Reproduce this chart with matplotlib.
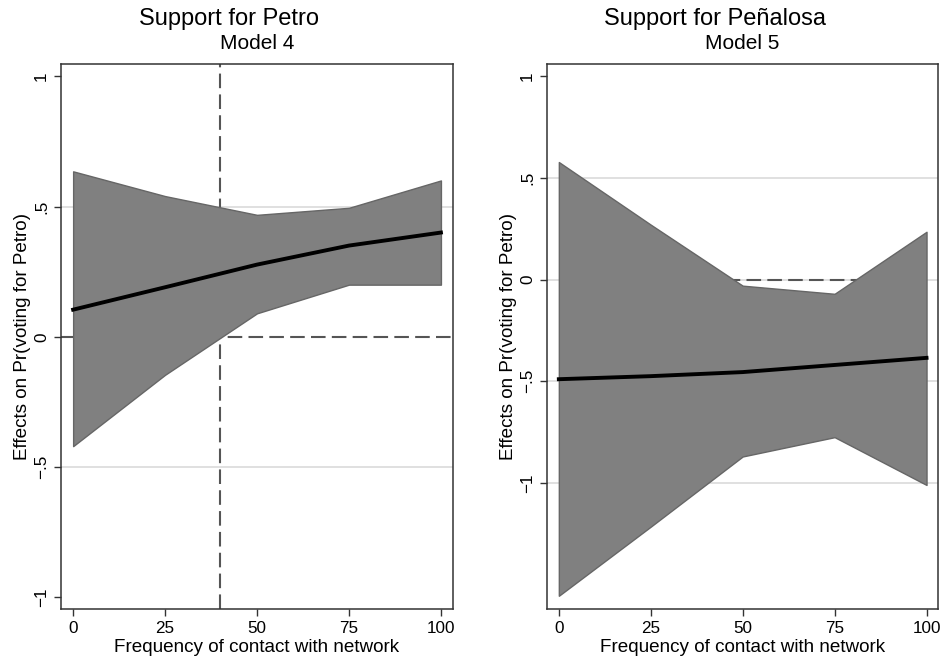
import matplotlib
matplotlib.use("Agg")
import matplotlib.pyplot as plt

plt.rcParams["font.family"] = ["Liberation Sans", "DejaVu Sans"]

contact = [0, 25, 50, 75, 100]

# Model 4: support for Petro
petro_effect = [0.104, 0.19, 0.277, 0.35, 0.40]
petro_upper = [0.635, 0.54, 0.468, 0.495, 0.60]
petro_lower = [-0.42, -0.146, 0.09, 0.20, 0.20]
petro_cut = 40

# Model 5: support for Peñalosa
penalosa_effect = [-0.49, -0.475, -0.455, -0.42, -0.385]
penalosa_upper = [0.578, 0.27, -0.03, -0.07, 0.235]
penalosa_lower = [-1.555, -1.215, -0.87, -0.775, -1.01]

yticks = [-1, -0.5, 0, 0.5, 1]
ytick_labels = ["\u22121", "\u2212.5", "0", ".5", "1"]
xticks = [0, 25, 50, 75, 100]

fig = plt.figure(figsize=(9.48, 6.62), dpi=100)
ax1 = fig.add_axes([61 / 948, 53 / 662, 391.7 / 948, 545 / 662])
ax2 = fig.add_axes([546.7 / 948, 53 / 662, 391.6 / 948, 545 / 662])

dash_kw = dict(color="#555555", lw=1.5, dashes=(7, 3), zorder=1)


def style_axes(ax, grid_vals, ylim, subtitle):
    ax.set_xlim(-3.3, 103.2)
    ax.set_ylim(*ylim)
    for g in grid_vals:
        ax.axhline(g, color="#dddddd", lw=1.3, zorder=0)
    ax.set_xticks(xticks)
    ax.set_xticklabels([str(v) for v in xticks])
    ax.set_yticks(yticks)
    ax.set_yticklabels(ytick_labels, rotation=90, va="center")
    ax.tick_params(axis="both", labelsize=12.3, length=5, width=1,
                   color="#333333", direction="out")
    for s in ax.spines.values():
        s.set_color("#333333")
        s.set_linewidth(1.1)
    ax.set_xlabel("Frequency of contact with network", fontsize=13.6, labelpad=2)
    ax.set_ylabel("Effects on Pr(voting for Petro)", fontsize=13.6, labelpad=2)
    ax.set_title(subtitle, fontsize=15, pad=11)


# left panel
style_axes(ax1, [0.5, -0.5], (-1.045, 1.047), "Model 4")
ax1.axvline(petro_cut, **dash_kw)
ax1.axhline(0, **dash_kw)
ax1.fill_between(contact, petro_lower, petro_upper, facecolor="#808080",
                 edgecolor="#666666", lw=1, zorder=2)
ax1.plot(contact, petro_effect, color="black", lw=2.8, zorder=3)

# right panel
style_axes(ax2, [0.5, 0, -0.5, -1], (-1.62, 1.06), "Model 5")
ax2.plot([contact[0], contact[-1]], [0, 0], **dash_kw)
ax2.fill_between(contact, penalosa_lower, penalosa_upper, facecolor="#808080",
                 edgecolor="#666666", lw=1, zorder=2)
ax2.plot(contact, penalosa_effect, color="black", lw=2.8, zorder=3)

fig.text(229 / 948, 1 - 19 / 662, "Support for Petro", ha="center", va="center",
         fontsize=17)
fig.text(715 / 948, 1 - 19 / 662, "Support for Pe\u00f1alosa", ha="center",
         va="center", fontsize=17)

fig.savefig("out.png", dpi=100)
